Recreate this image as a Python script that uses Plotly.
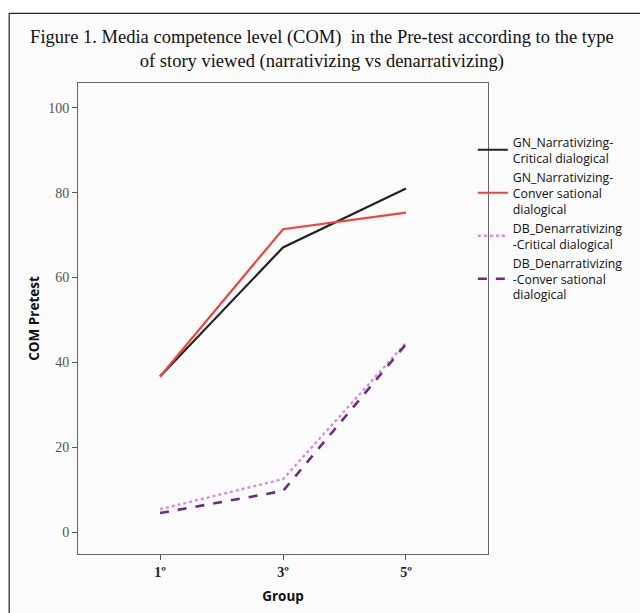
import plotly.graph_objects as go

groups = ["1º", "3º", "5º"]
series_names = [
    "GN_Narrativizing-<br>Critical dialogical",
    "GN_Narrativizing-<br>Conver sational<br>dialogical",
    "DB_Denarrativizing<br>-Critical dialogical",
    "DB_Denarrativizing<br>-Conver sational<br>dialogical",
]
gn_critical = [36.7, 67.1, 81.0]
gn_conversational = [36.7, 71.4, 75.3]
db_critical = [5.4, 12.5, 44.6]
db_conversational = [4.5, 9.7, 44.3]
y_ticks = [0, 20, 40, 60, 80, 100]

series_values = [gn_critical, gn_conversational, db_critical, db_conversational]
colors = ["#222222", "#e8473f", "#d98ae6", "#6e2a7c"]
dashes = ["solid", "solid", "dot", "dash"]
widths = [2.2, 2.2, 2.4, 2.6]

fig = go.Figure()
for name, vals, c, d, w in zip(series_names, series_values, colors, dashes, widths):
    fig.add_trace(go.Scatter(x=groups, y=vals, mode="lines", name=name,
                             line=dict(color=c, dash=d, width=w)))

fig.update_layout(
    width=640, height=613,
    margin=dict(l=78, r=151, t=83, b=56),
    paper_bgcolor="white",
    plot_bgcolor="#f0f0f0",
    title=dict(
        text="Figure 1. Media competence level (COM)  in the Pre-test according to the type<br>of story viewed (narrativizing vs denarrativizing)",
        x=0.503, xanchor="center", xref="container", y=0.9305, yanchor="middle",
        font=dict(family="Liberation Serif", size=18.5, color="#111111"),
    ),
    showlegend=True,
    legend=dict(x=0.963, xanchor="left", y=0.906, yanchor="top",
                bgcolor="rgba(0,0,0,0)", itemwidth=30,
                font=dict(family="Open Sans", size=12.3, color="#111111"),
                tracegroupgap=0),
    xaxis=dict(
        type="category", range=[-0.667, 2.667],
        showline=True, mirror=True, linecolor="#666666", linewidth=1,
        ticks="outside", ticklen=5, tickcolor="#555555",
        showgrid=False, zeroline=False,
        tickfont=dict(family="Liberation Serif", size=14, color="#222222", weight="bold"),
        title=dict(text="<b>Group</b>", font=dict(family="Open Sans", size=13.5, color="#111111"), standoff=12),
    ),
    yaxis=dict(
        range=[-5.15, 105.85], tickvals=y_ticks,
        showline=True, mirror=True, linecolor="#666666", linewidth=1,
        ticks="outside", ticklen=5, tickcolor="#555555",
        showgrid=False, zeroline=False,
        tickfont=dict(family="Liberation Serif", size=14, color="#555555"),
        title=dict(text="<b>COM Pretest</b>", font=dict(family="Open Sans", size=13.5, color="#111111"), standoff=5),
    ),
)

# outer frame of the figure
fig.add_shape(type="rect", xref="paper", yref="paper",
              x0=-69/411, x1=1.5, y0=-0.3, y1=(557-13)/474,
              line=dict(color="#222222", width=1.2), fillcolor="#fbfbfb", layer="below")

fig.write_html("out.html", config={"displayModeBar": False},
               post_script="document.body.style.margin='0';document.body.style.overflow='hidden';")
